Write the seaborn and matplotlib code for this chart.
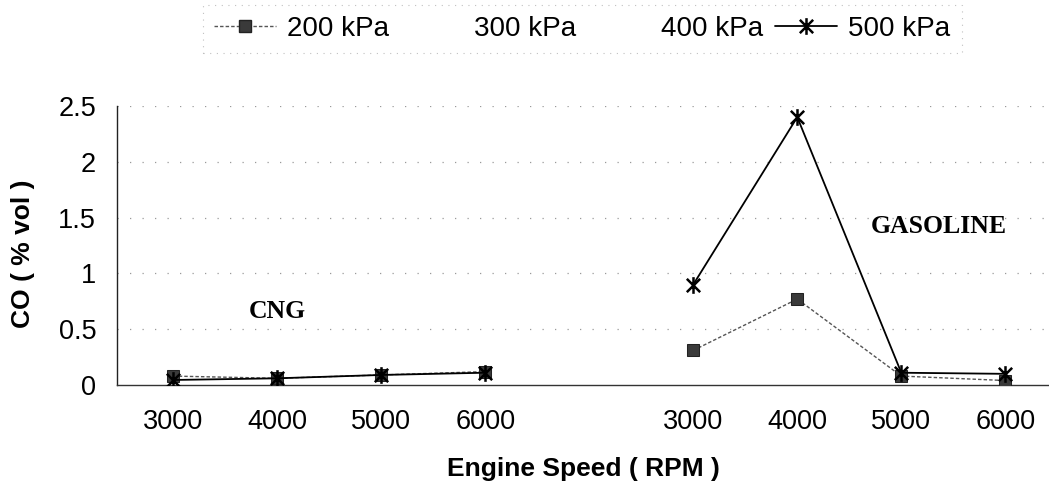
import numpy as np
import pandas as pd
import matplotlib
matplotlib.use("Agg")
import matplotlib.pyplot as plt
from matplotlib.lines import Line2D
from matplotlib.path import Path
import seaborn as sns

# ---- data -------------------------------------------------------------
speeds = [3000, 4000, 5000, 6000]                 # engine speed, RPM
fuels = ["CNG", "GASOLINE"]
pressures = ["200 kPa", "300 kPa", "400 kPa", "500 kPa"]

co_200_cng = [0.08, 0.06, 0.09, 0.12]             # CO, % vol
co_500_cng = [0.045, 0.06, 0.09, 0.11]
co_200_gas = [0.31, 0.77, 0.08, 0.04]
co_500_gas = [0.90, 2.40, 0.11, 0.10]

y_ticks = [0, 0.5, 1, 1.5, 2, 2.5]
y_tick_labels = ["0", "0.5", "1", "1.5", "2", "2.5"]

# ---- long table: one category slot per speed, one empty slot between fuels
slot_cng = np.arange(len(speeds))
slot_gas = slot_cng + len(speeds) + 1
rows = []
for fuel, slots, s200, s500 in [
    ("CNG", slot_cng, co_200_cng, co_500_cng),
    ("GASOLINE", slot_gas, co_200_gas, co_500_gas),
]:
    for sl, spd, a, b in zip(slots, speeds, s200, s500):
        rows.append({"slot": sl, "rpm": spd, "fuel": fuel, "pressure": "200 kPa", "co": a})
        rows.append({"slot": sl, "rpm": spd, "fuel": fuel, "pressure": "500 kPa", "co": b})
df = pd.DataFrame(rows)

# ---- style ------------------------------------------------------------
sns.set_style("white")
plt.rcParams["font.family"] = ["Liberation Sans", "DejaVu Sans"]
plt.rcParams["text.color"] = "black"
plt.rcParams["axes.labelcolor"] = "black"

# asterisk marker: an "x" crossed by a vertical bar
star = Path(
    [(-1, -1), (1, 1), (-1, 1), (1, -1), (0, -1.25), (0, 1.25)],
    [Path.MOVETO, Path.LINETO, Path.MOVETO, Path.LINETO, Path.MOVETO, Path.LINETO],
)

fig = plt.figure(figsize=(10.49, 4.86), dpi=100)
ax = fig.add_axes([117 / 1049, 1 - 385 / 486, (1049 - 117) / 1049, (385 - 106) / 486])

d200 = df[df["pressure"] == "200 kPa"]
d500 = df[df["pressure"] == "500 kPa"]

sns.lineplot(data=d200, x="slot", y="co", units="fuel", estimator=None, ax=ax,
             color="#555555", lw=1.0, linestyle=(0, (2.5, 1.5)),
             marker="s", markersize=8, markerfacecolor="#3a3a3a",
             markeredgecolor="#222222", zorder=3)
sns.lineplot(data=d500, x="slot", y="co", units="fuel", estimator=None, ax=ax,
             color="black", lw=1.3, marker=star, markersize=12,
             markeredgewidth=1.8, markeredgecolor="black", zorder=4)

# ---- axes -------------------------------------------------------------
ax.set_xlim(-0.54, 8.42)
ax.set_ylim(0, 2.5)
ax.set_yticks(y_ticks)
ax.set_yticklabels(y_tick_labels)
ax.set_xticks(np.concatenate([slot_cng, slot_gas]))
ax.set_xticklabels([str(s) for s in speeds] * len(fuels))
ax.tick_params(axis="both", length=0, labelsize=19.5, colors="black")
ax.tick_params(axis="x", pad=17)
ax.tick_params(axis="y", pad=15)

for yv in y_ticks[1:]:
    ax.axhline(yv, color="#9a9a9a", lw=0.9, linestyle=(0, (1, 9)), zorder=1)

for side in ["top", "right"]:
    ax.spines[side].set_visible(False)
ax.spines["left"].set_color("#222222")
ax.spines["left"].set_linewidth(1.0)
ax.spines["left"].set_linestyle((0, (5, 1)))
ax.spines["bottom"].set_color("#333333")
ax.spines["bottom"].set_linewidth(1.0)

ax.set_xlabel("Engine Speed ( RPM )", fontsize=19, fontweight="bold", labelpad=16)
ax.set_ylabel("CO ( % vol )", fontsize=19, fontweight="bold")
ax.yaxis.set_label_coords(-0.088, 0.47)

ax.text(1.0, 0.66, "CNG", ha="center", va="center", fontsize=18.5,
        fontweight="bold", family=["Liberation Serif", "DejaVu Serif"])
ax.text(7.36, 1.42, "GASOLINE", ha="center", va="center", fontsize=18.5,
        fontweight="bold", family=["Liberation Serif", "DejaVu Serif"])

# ---- legend -----------------------------------------------------------
handles = [
    Line2D([], [], color="#555555", lw=1.0, linestyle=(0, (2.5, 1.5)), marker="s",
           markersize=8, markerfacecolor="#3a3a3a", markeredgecolor="#222222"),
    Line2D([], [], linestyle="none"),
    Line2D([], [], linestyle="none"),
    Line2D([], [], color="black", lw=1.3, marker=star, markersize=12,
           markeredgewidth=1.8, markeredgecolor="black"),
]
leg = fig.legend(handles, pressures, loc="upper left", ncol=4,
                 bbox_to_anchor=(203 / 1049, 1 - 5 / 486), borderaxespad=0,
                 fontsize=20, handlelength=2.23, handletextpad=0.4,
                 columnspacing=0.43, borderpad=0.4, frameon=True, fancybox=False)
frame = leg.get_frame()
frame.set_edgecolor("#b0b0b0")
frame.set_linestyle((0, (1, 5)))
frame.set_linewidth(0.8)
for t in leg.get_texts():
    t.set_color("black")

fig.savefig("out.png", dpi=100, facecolor="white")
